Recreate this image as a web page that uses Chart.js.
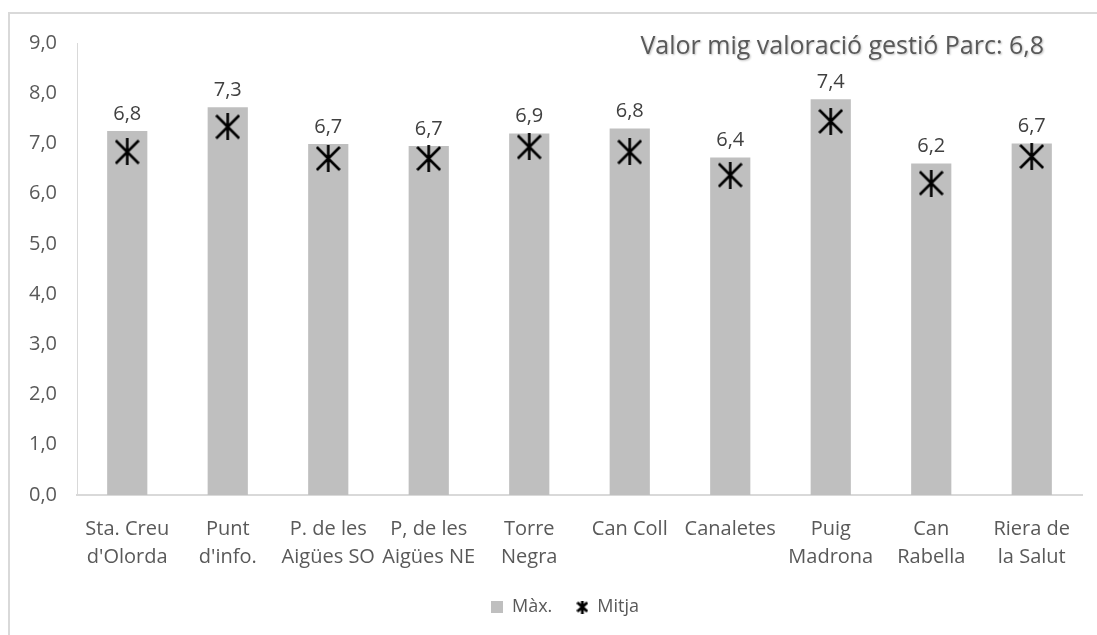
<!DOCTYPE html>
<html>
<head>
<meta charset="utf-8">
<script src="https://cdn.jsdelivr.net/npm/chart.js@4/dist/chart.umd.min.js"></script>
<style>
  html, body { margin: 0; padding: 0; background: #ffffff; }
  #wrap { width: 1097px; height: 635px; position: relative; }
</style>
</head>
<body>
<div id="wrap"><canvas id="chart"></canvas></div>
<script>
var categories = [
    ['Sta. Creu', "d'Olorda"],
    ['Punt', "d'info."],
    ['P. de les', 'Aigües SO'],
    ['P, de les', 'Aigües NE'],
    ['Torre', 'Negra'],
    'Can Coll',
    'Canaletes',
    ['Puig', 'Madrona'],
    ['Can', 'Rabella'],
    ['Riera de', 'la Salut']
];
var maxValues = [7.25, 7.72, 6.99, 6.95, 7.2, 7.3, 6.72, 7.88, 6.6, 7.0];
var meanValues = [6.83, 7.33, 6.7, 6.7, 6.93, 6.83, 6.37, 7.44, 6.21, 6.74];
var seriesNames = ['Màx.', 'Mitja'];
var parkMean = 6.8;
var titleText = 'Valor mig valoració gestió Parc: ';

var FONT = '"Open Sans", Carlito, Lato, sans-serif';

function fmt(v) {
    return v.toFixed(1).replace('.', ',');
}

// star marker: X plus a vertical bar, like the spreadsheet one
function makeStar(w, h, lw) {
    var c = document.createElement('canvas');
    c.width = w;
    c.height = h;
    var g = c.getContext('2d');
    g.strokeStyle = '#000000';
    g.lineWidth = lw;
    g.beginPath();
    g.moveTo(w / 2, 0);
    g.lineTo(w / 2, h);
    g.moveTo(1, 2);
    g.lineTo(w - 1, h - 2);
    g.moveTo(w - 1, 2);
    g.lineTo(1, h - 2);
    g.stroke();
    return c;
}
var starBig = makeStar(25, 27, 2.6);
var starSmall = makeStar(12, 13, 2.8);

var framePlugin = {
    id: 'frame',
    beforeDraw: function (chart) {
        var ctx = chart.ctx;
        ctx.save();
        ctx.strokeStyle = '#d9d9d9';
        ctx.lineWidth = 2;
        ctx.beginPath();
        ctx.moveTo(9, 700);
        ctx.lineTo(9, 13);
        ctx.lineTo(1100, 13);
        ctx.stroke();
        ctx.restore();
        // legend is centred under the plot, not the whole canvas
        if (chart.legend) {
            chart.legend.left = 24;
            chart.legend.right = chart.width + 9;
        }
    }
};

var labelPlugin = {
    id: 'barLabels',
    afterDatasetsDraw: function (chart) {
        var ctx = chart.ctx;
        var meta = chart.getDatasetMeta(1);
        ctx.save();
        ctx.font = '20px ' + FONT;
        ctx.fillStyle = '#404040';
        ctx.textAlign = 'center';
        ctx.textBaseline = 'middle';
        meta.data.forEach(function (bar, i) {
            ctx.fillText(fmt(meanValues[i]), bar.x, bar.y - 17);
        });
        // title inside the plot, top right
        ctx.font = '25px ' + FONT;
        ctx.textAlign = 'right';
        ctx.fillStyle = '#595959';
        ctx.shadowColor = 'rgba(0,0,0,0.25)';
        ctx.shadowOffsetX = 1;
        ctx.shadowOffsetY = 1;
        ctx.shadowBlur = 2;
        ctx.fillText(titleText + fmt(parkMean), 1044, 47);
        ctx.restore();
    }
};

var chart = new Chart(document.getElementById('chart'), {
    data: {
        labels: categories,
        datasets: [
            {
                type: 'line',
                label: seriesNames[1],
                data: meanValues,
                showLine: false,
                pointStyle: starBig,
                pointRadius: 12,
                order: 0
            },
            {
                type: 'bar',
                label: seriesNames[0],
                data: maxValues,
                backgroundColor: '#bfbfbf',
                borderWidth: 0,
                barPercentage: 0.8,
                categoryPercentage: 0.5,
                pointStyle: 'rect',
                order: 1
            }
        ]
    },
    options: {
        responsive: true,
        maintainAspectRatio: false,
        animation: false,
        layout: {
            padding: { left: 0, right: 15, top: 43, bottom: 9 }
        },
        scales: {
            x: {
                grid: { display: false },
                border: { display: true, color: '#d9d9d9', width: 2 },
                ticks: {
                    color: '#595959',
                    font: { family: FONT, size: 20, lineHeight: 1.4 },
                    padding: 12,
                    maxRotation: 0,
                    autoSkip: false
                },
                afterFit: function (s) { s.height = 79; }
            },
            y: {
                min: 0,
                max: 9,
                grid: { display: false, drawTicks: false },
                border: { display: true, color: '#d9d9d9', width: 1 },
                ticks: {
                    stepSize: 1,
                    color: '#595959',
                    font: { family: FONT, size: 20 },
                    padding: 20,
                    callback: function (v) { return fmt(v); }
                },
                afterFit: function (s) { s.width = 77; }
            }
        },
        plugins: {
            tooltip: { enabled: false },
            legend: {
                position: 'bottom',
                labels: {
                    usePointStyle: true,
                    color: '#595959',
                    font: { family: FONT, size: 18 },
                    boxWidth: 12,
                    boxHeight: 12,
                    padding: 24,
                    generateLabels: function (chart) {
                        var items = Chart.defaults.plugins.legend.labels.generateLabels(chart);
                        items.sort(function (a, b) { return b.datasetIndex - a.datasetIndex; });
                        items.forEach(function (it) {
                            if (it.datasetIndex === 0) {
                                it.pointStyle = starSmall;
                            } else {
                                it.pointStyle = 'rect';
                                it.fillStyle = '#bfbfbf';
                                it.strokeStyle = '#bfbfbf';
                                it.lineWidth = 0;
                            }
                        });
                        return items;
                    }
                }
            }
        }
    },
    plugins: [framePlugin, labelPlugin]
});
</script>
</body>
</html>
